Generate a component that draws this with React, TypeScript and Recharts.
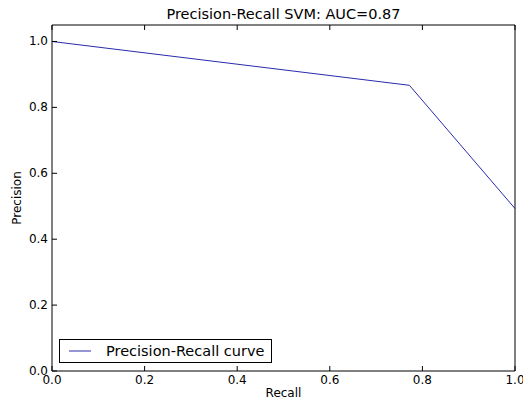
import React from 'react';
import { LineChart, Line, XAxis, YAxis, Legend, Label } from 'recharts';

const recall = [0.0, 0.772, 1.0];
const precision = [1.0, 0.867, 0.493];
const xTicks = [0, 0.2, 0.4, 0.6, 0.8, 1.0];
const yTicks = [0, 0.2, 0.4, 0.6, 0.8, 1.0];
const title = 'Precision-Recall SVM: AUC=0.87';
const seriesName = 'Precision-Recall curve';

const data = recall.map((r, i) => ({ recall: r, precision: precision[i] }));

const FONT = '"DejaVu Sans", sans-serif';
const LINE_COLOR = '#2a2aae';
const TICK = 5;

const BottomTick = (props: any) => {
  const { x, y, payload } = props;
  return (
    <g>
      <line x1={x} y1={y} x2={x} y2={y - TICK} stroke="#000" strokeWidth={1} />
      <text x={x} y={y + 13} textAnchor="middle" fontSize={12} fontFamily={FONT} fill="#000">
        {Number(payload.value).toFixed(1)}
      </text>
    </g>
  );
};
const TopTick = (props: any) => {
  const { x, y } = props;
  return <line x1={x} y1={y} x2={x} y2={y + TICK} stroke="#000" strokeWidth={1} />;
};
const LeftTick = (props: any) => {
  const { x, y, payload } = props;
  return (
    <g>
      <line x1={x} y1={y} x2={x + TICK} y2={y} stroke="#000" strokeWidth={1} />
      <text x={x - 4} y={y + 4} textAnchor="end" fontSize={12} fontFamily={FONT} fill="#000">
        {Number(payload.value).toFixed(1)}
      </text>
    </g>
  );
};
const RightTick = (props: any) => {
  const { x, y } = props;
  return <line x1={x} y1={y} x2={x - TICK} y2={y} stroke="#000" strokeWidth={1} />;
};

const LegendBox = () => (
  <div
    style={{
      border: '1px solid #000',
      background: '#fff',
      width: 211,
      height: 22,
      display: 'flex',
      alignItems: 'center',
      fontFamily: FONT,
      fontSize: 14.5,
      boxSizing: 'content-box',
    }}
  >
    <svg width={46} height={22}>
      <line x1={9} y1={11} x2={31} y2={11} stroke={LINE_COLOR} strokeWidth={1} />
    </svg>
    <span style={{ lineHeight: '22px', whiteSpace: 'nowrap' }}>{seriesName}</span>
  </div>
);

export default function App() {
  return (
    <div style={{ position: 'absolute', left: 0, top: 0, width: 523, height: 400, background: '#fff' }}>
      <LineChart width={523} height={400} data={data} margin={{ top: 0, right: 0, bottom: 0, left: 0 }}>
        <XAxis
          xAxisId="bottom"
          dataKey="recall"
          type="number"
          domain={[0, 1]}
          ticks={xTicks}
          height={29}
          tickSize={0}
          tickMargin={0}
          tickLine={false}
          stroke="#000"
          tick={<BottomTick />}
          interval={0}
        >
          <Label
            content={(p: any) => {
              const vb = p.viewBox;
              return (
                <text x={vb.x + vb.width / 2} y={vb.y + 26} textAnchor="middle" fontSize={12} fontFamily={FONT} fill="#000">
                  Recall
                </text>
              );
            }}
          />
        </XAxis>
        <XAxis
          xAxisId="top"
          orientation="top"
          dataKey="recall"
          type="number"
          domain={[0, 1]}
          ticks={xTicks}
          height={25}
          tickSize={0}
          tickMargin={0}
          tickLine={false}
          stroke="#000"
          tick={<TopTick />}
          interval={0}
        >
          <Label
            content={(p: any) => {
              const vb = p.viewBox;
              return (
                <text x={vb.x + vb.width / 2} y={19} textAnchor="middle" fontSize={14.5} fontFamily={FONT} fill="#000">
                  {title}
                </text>
              );
            }}
          />
        </XAxis>
        <YAxis
          yAxisId="left"
          type="number"
          domain={[0, 1.05]}
          ticks={yTicks}
          width={52}
          tickSize={0}
          tickMargin={0}
          tickLine={false}
          stroke="#000"
          tick={<LeftTick />}
          interval={0}
        >
          <Label
            content={(p: any) => {
              const vb = p.viewBox;
              const cx = 21;
              const cy = vb.y + vb.height / 2;
              return (
                <text x={cx} y={cy} transform={`rotate(-90 ${cx} ${cy})`} textAnchor="middle" fontSize={12} fontFamily={FONT} fill="#000">
                  Precision
                </text>
              );
            }}
          />
        </YAxis>
        <YAxis
          yAxisId="right"
          orientation="right"
          type="number"
          domain={[0, 1.05]}
          ticks={yTicks}
          width={8}
          tickSize={0}
          tickMargin={0}
          tickLine={false}
          stroke="#000"
          tick={<RightTick />}
          interval={0}
        />
        <Line
          xAxisId="bottom"
          yAxisId="left"
          dataKey="precision"
          name={seriesName}
          stroke={LINE_COLOR}
          strokeWidth={1}
          dot={false}
          activeDot={false}
          isAnimationActive={false}
        />
        <Legend
          layout="horizontal"
          verticalAlign="middle"
          align="center"
          content={() => <LegendBox />}
          wrapperStyle={{ position: 'absolute', left: 59, top: 339, width: 213, height: 24 }}
        />
      </LineChart>
    </div>
  );
}
